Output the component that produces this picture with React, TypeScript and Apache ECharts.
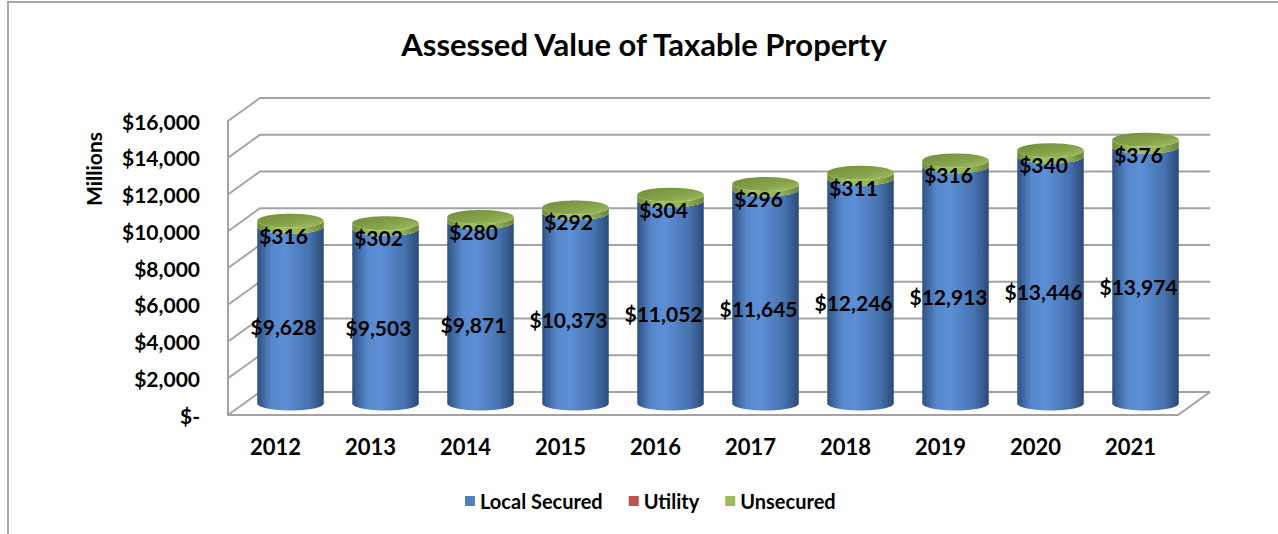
import React, { useEffect, useRef } from "react";
import * as echarts from "echarts";

const categories = ["2012", "2013", "2014", "2015", "2016", "2017", "2018", "2019", "2020", "2021"];
const localSecured = [9628, 9503, 9871, 10373, 11052, 11645, 12246, 12913, 13446, 13974];
const utility = [0, 0, 0, 0, 0, 0, 0, 0, 0, 0];
const unsecured = [316, 302, 280, 292, 304, 296, 311, 316, 340, 376];
const yTicks = [0, 2000, 4000, 6000, 8000, 10000, 12000, 14000, 16000];
const seriesNames = ["Local Secured", "Utility", "Unsecured"];
const seriesColors = ["#4f81bd", "#c0504d", "#9bbb59"];

const stacks = [localSecured, utility, unsecured];

const FONT = "Lato, 'Open Sans', 'Noto Sans', sans-serif";
const DEPTH_X = 32;
const DEPTH_Y = 23;
const GRID_COLOR = "#a3a3a3";

const bodyGradients = [
  [
    { offset: 0, color: "#2f5183" },
    { offset: 0.22, color: "#5788cc" },
    { offset: 0.42, color: "#5c8fd6" },
    { offset: 0.78, color: "#4673b0" },
    { offset: 1, color: "#2c4a76" },
  ],
  [
    { offset: 0, color: "#8a3533" },
    { offset: 0.3, color: "#cf5a57" },
    { offset: 1, color: "#7d2f2d" },
  ],
  [
    { offset: 0, color: "#6f8c36" },
    { offset: 0.3, color: "#a3c25f" },
    { offset: 0.75, color: "#93b153" },
    { offset: 1, color: "#6a8535" },
  ],
];

function fmt(v: number): string {
  return "$" + v.toLocaleString("en-US");
}

function makeCylinderRender(si: number) {
  return function (params: any, api: any) {
    const idx = api.value(0);
    const val = api.value(1);
    if (!val) return null;
    let base = 0;
    for (let k = 0; k < si; k++) base += stacks[k][idx];
    const top = base + val;
    let stackTotal = 0;
    for (let k = 0; k < stacks.length; k++) stackTotal += stacks[k][idx];
    const isTop = Math.abs(top - stackTotal) < 1e-6;
    const p0 = api.coord([idx, base]);
    const p1 = api.coord([idx, top]);
    const pm = api.coord([idx, base + val / 2]);
    const bw = api.size([1, 0])[0];
    const rx = bw * 0.35;
    const ry = 7;
    const cx = p0[0] + DEPTH_X / 2 - 1;
    const yb = p0[1] - DEPTH_Y / 2;
    const yt = p1[1] - DEPTH_Y / 2;
    const pts: number[][] = [];
    pts.push([cx - rx, yt]);
    pts.push([cx - rx, yb]);
    const N = 24;
    for (let i = 0; i <= N; i++) {
      const t = Math.PI - (Math.PI * i) / N;
      pts.push([cx + rx * Math.cos(t), yb + ry * Math.sin(t)]);
    }
    pts.push([cx + rx, yt]);
    for (let i = 0; i <= N; i++) {
      const t = (Math.PI * i) / N;
      pts.push([cx + rx * Math.cos(t), yt + ry * Math.sin(t)]);
    }
    const children: any[] = [
      {
        type: "polygon",
        shape: { points: pts },
        style: {
          fill: new echarts.graphic.LinearGradient(0, 0, 1, 0, bodyGradients[si]),
        },
      },
    ];
    if (isTop) {
      children.push({
        type: "ellipse",
        shape: { cx: cx, cy: yt, rx: rx, ry: ry },
        style: {
          fill: new echarts.graphic.LinearGradient(0, 0, 1, 1, [
            { offset: 0, color: "#718c39" },
            { offset: 0.6, color: "#87a54b" },
            { offset: 1, color: "#a5c265" },
          ]),
        },
      });
    }
    children.push({
      type: "text",
      z2: 10,
      style: {
        x: p0[0] + 8,
        y: pm[1],
        text: fmt(val),
        fill: "#000",
        font: "bold 21px " + FONT,
        align: "center",
        verticalAlign: "middle",
      },
    });
    return { type: "group", children };
  };
}

function renderGrid3D(params: any, api: any) {
  const v = api.value(1);
  const p = api.coord([0, v]);
  const x0 = params.coordSys.x;
  const x1 = x0 + params.coordSys.width;
  const y = p[1];
  const children: any[] = [
    {
      type: "polyline",
      shape: {
        points: [
          [x0, y],
          [x0 + DEPTH_X, y - DEPTH_Y],
          [x1 + DEPTH_X, y - DEPTH_Y],
        ],
      },
      style: { stroke: GRID_COLOR, lineWidth: 2, fill: "none" },
    },
  ];
  if (v === 0) {
    children.push({
      type: "polyline",
      shape: {
        points: [
          [x0, y],
          [x1, y],
          [x1 + DEPTH_X, y - DEPTH_Y],
        ],
      },
      style: { stroke: GRID_COLOR, lineWidth: 2, fill: "none" },
    });
  }
  return { type: "group", children };
}

export default function App() {
  const ref = useRef<HTMLDivElement>(null);
  useEffect(() => {
    document.body.style.margin = "0";
    const chart = echarts.init(ref.current!, null, { renderer: "svg" });
    const cylinderSeries = seriesNames.map((name, si) => ({
      name,
      type: "custom",
      renderItem: makeCylinderRender(si),
      data: categories.map((c, i) => [i, stacks[si][i]]),
      encode: { x: 0, y: 1 },
      itemStyle: { color: seriesColors[si] },
      clip: false,
      z: 3,
      silent: true,
    }));
    chart.setOption({
      animation: false,
      color: seriesColors,
      backgroundColor: "#ffffff",
      grid: { left: 228, top: 121, width: 950, height: 294, containLabel: false },
      legend: {
        data: seriesNames,
        left: 460,
        top: 486,
        itemWidth: 10,
        itemHeight: 10,
        itemGap: 26,
        icon: "rect",
        textStyle: { fontFamily: FONT, fontWeight: "bold", fontSize: 20, color: "#000" },
      },
      xAxis: {
        type: "category",
        data: categories,
        axisTick: { show: false },
        axisLine: { show: false },
        axisLabel: {
          margin: 20,
          fontFamily: FONT,
          fontWeight: "bold",
          fontSize: 22,
          color: "#000",
        },
      },
      yAxis: {
        type: "value",
        min: 0,
        max: 16000,
        interval: 2000,
        splitLine: { show: false },
        axisTick: { show: false },
        axisLine: { show: true, lineStyle: { color: GRID_COLOR, width: 2 } },
        axisLabel: {
          margin: 28,
          fontFamily: FONT,
          fontWeight: "bold",
          fontSize: 21,
          color: "#000",
          formatter: (v: number) => (v === 0 ? "$-" : "$" + v.toLocaleString("en-US")),
        },
      },
      graphic: [
        {
          type: "rect",
          shape: { x: 8, y: 2, width: 1290, height: 560 },
          style: { fill: "none", stroke: "#a6a6a6", lineWidth: 2 },
          silent: true,
        },
        {
          type: "text",
          x: 644,
          y: 44,
          style: {
            text: "Assessed Value of Taxable Property",
            font: "bold 31px " + FONT,
            fill: "#000",
            align: "center",
            verticalAlign: "middle",
          },
        },
        {
          type: "text",
          x: 93,
          y: 169,
          rotation: Math.PI / 2,
          style: {
            text: "Millions",
            font: "bold 21px " + FONT,
            fill: "#000",
            align: "center",
            verticalAlign: "middle",
          },
        },
      ],
      series: [
        {
          name: "grid3d",
          type: "custom",
          renderItem: renderGrid3D,
          data: yTicks.map((v) => [0, v]),
          encode: { x: 0, y: 1 },
          clip: false,
          z: 1,
          silent: true,
        },
        ...cylinderSeries,
      ],
    });
    return () => chart.dispose();
  }, []);
  return <div ref={ref} style={{ width: 1278, height: 534 }} />;
}
